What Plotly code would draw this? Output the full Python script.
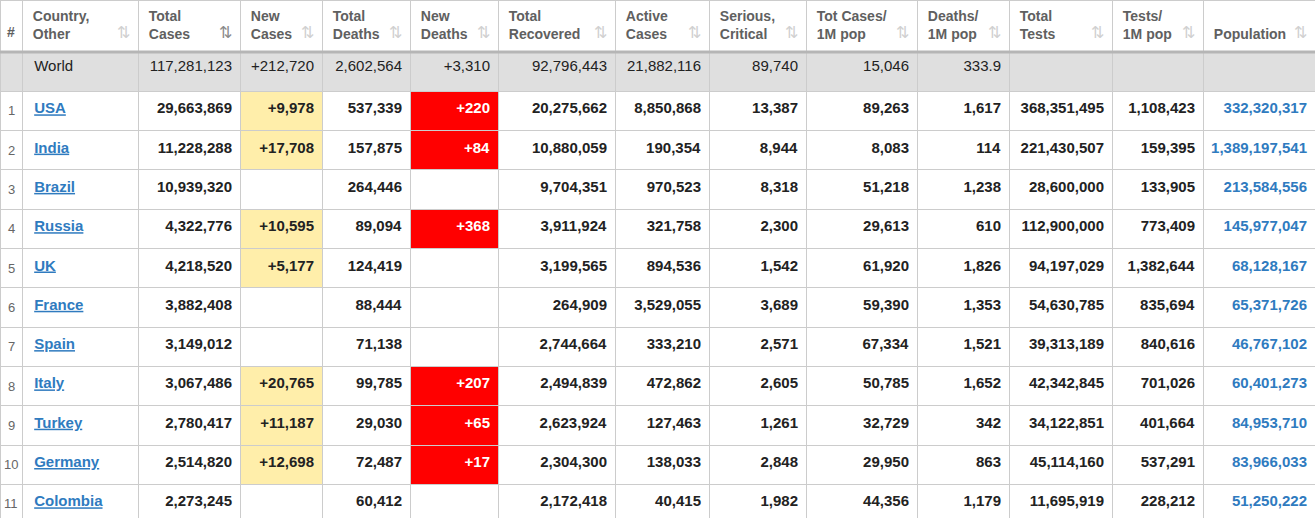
import plotly.graph_objects as go

# Column headers and table data (World row first, then countries)
headers = ["", "Country,<br>Other", "Total<br>Cases", "New<br>Cases", "Total<br>Deaths",
           "New<br>Deaths", "Total<br>Recovered", "Active<br>Cases", "Serious,<br>Critical",
           "Tot Cases/<br>1M pop", "Deaths/<br>1M pop", "Total<br>Tests", "Tests/<br>1M pop",
           "\u00a0<br>Population"]

countries = ["USA", "India", "Brazil", "Russia", "UK", "France", "Spain", "Italy",
             "Turkey", "Germany", "Colombia"]
total_cases = [29663869, 11228288, 10939320, 4322776, 4218520, 3882408, 3149012,
               3067486, 2780417, 2514820, 2273245]
new_cases = [9978, 17708, None, 10595, 5177, None, None, 20765, 11187, 12698, None]
total_deaths = [537339, 157875, 264446, 89094, 124419, 88444, 71138, 99785, 29030,
                72487, 60412]
new_deaths = [220, 84, None, 368, None, None, None, 207, 65, 17, None]
total_recovered = [20275662, 10880059, 9704351, 3911924, 3199565, 264909, 2744664,
                   2494839, 2623924, 2304300, 2172418]
active_cases = [8850868, 190354, 970523, 321758, 894536, 3529055, 333210, 472862,
                127463, 138033, 40415]
serious = [13387, 8944, 8318, 2300, 1542, 3689, 2571, 2605, 1261, 2848, 1982]
cases_per_m = [89263, 8083, 51218, 29613, 61920, 59390, 67334, 50785, 32729, 29950, 44356]
deaths_per_m = [1617, 114, 1238, 610, 1826, 1353, 1521, 1652, 342, 863, 1179]
total_tests = [368351495, 221430507, 28600000, 112900000, 94197029, 54630785, 39313189,
               42342845, 34122851, 45114160, 11695919]
tests_per_m = [1108423, 159395, 133905, 773409, 1382644, 835694, 840616, 701026,
               401664, 537291, 228212]
population = [332320317, 1389197541, 213584556, 145977047, 68128167, 65371726, 46767102,
              60401273, 84953710, 83966033, 51250222]

world = ["", "World", 117281123, 212720, 2602564, 3310, 92796443, 21882116, 89740,
         15046, 333.9, None, None, None]


def fmt(v, plus=False):
    if v is None or v == "":
        return ""
    if isinstance(v, str):
        return v
    if isinstance(v, float) and not v.is_integer():
        s = str(v)
    else:
        s = f"{int(v):,}"
    return "+" + s if plus else s


blue = "#2f7bbf"
dark = "#222222"
n = len(countries)
data_cols = [total_cases, new_cases, total_deaths, new_deaths, total_recovered,
             active_cases, serious, cases_per_m, deaths_per_m, total_tests,
             tests_per_m, population]
plus_cols = {1, 3}

values, fills, colors = [], [], []

# rank column (numbers are placed as annotations below, the column is too narrow)
values.append([""] * (n + 1))
fills.append(["#dfdfdf"] + ["white"] * n)
colors.append(["#666666"] * (n + 1))

# country column
values.append(["\u00a0World"] + [f"\u00a0<b><u>{c}</u></b>" for c in countries])
fills.append(["#dfdfdf"] + ["white"] * n)
colors.append([dark] + [blue] * n)

for j, col in enumerate(data_cols):
    plus = j in plus_cols
    txt = [fmt(world[j + 2], plus)]
    fl = ["#dfdfdf"]
    cl = [dark]
    for v in col:
        s = fmt(v, plus)
        txt.append(f"<b>{s}</b>" if s else "")
        if j == 1 and s:
            fl.append("#ffeeaa")
        elif j == 3 and s:
            fl.append("#ff0000")
        else:
            fl.append("white")
        if j == 3:
            cl.append("white")
        elif j == 11:
            cl.append(blue)
        else:
            cl.append(dark)
    values.append(txt)
    fills.append(fl)
    colors.append(cl)

col_widths = [22, 116, 102, 82, 88, 88, 117, 94, 97, 111, 92, 103, 91, 112]
aligns = ["center", "left"] + ["right"] * len(data_cols)

W, H = 1315, 518
header_h = 52
row_h = 39.3


def hdr(h):
    # small indent for each header line
    return "<br>".join("\u2009" + part for part in h.split("<br>")) if h else ""


fig = go.Figure(go.Table(
    columnwidth=col_widths,
    domain=dict(x=[0, 1], y=[0, 1]),
    header=dict(
        values=[f"<b>{hdr(h)}</b>" for h in headers],
        align="left",
        height=header_h,
        fill_color="white",
        line=dict(color="#cccccc", width=1),
        font=dict(family="Liberation Sans", size=14, color="#606060"),
    ),
    cells=dict(
        values=values,
        align=aligns,
        height=row_h,
        fill_color=fills,
        line=dict(color="#cccccc", width=1),
        font=dict(family="Liberation Sans", size=15, color=colors),
    ),
))

total_w = sum(col_widths)
annotations = []

# "#" header and rank numbers, centred in the narrow first column
annotations.append(dict(
    x=col_widths[0] / 2 / total_w, y=1 - 32 / H, xref="paper", yref="paper",
    xanchor="center", yanchor="middle", showarrow=False, text="<b>#</b>",
    font=dict(family="Liberation Sans", size=14, color="#606060"),
))
for i in range(n):
    yc = header_h + row_h * (i + 1.5)
    annotations.append(dict(
        x=col_widths[0] / 2 / total_w, y=1 - yc / H, xref="paper", yref="paper",
        xanchor="center", yanchor="middle", showarrow=False, text=str(i + 1),
        font=dict(family="Liberation Sans", size=13, color="#666666"),
    ))

# sort icons in the header
edge = 0
for i, w in enumerate(col_widths):
    edge += w
    if i == 0:
        continue
    annotations.append(dict(
        x=(edge - 6) / total_w, y=1 - 32 / H, xref="paper", yref="paper",
        xanchor="right", yanchor="middle", showarrow=False,
        text="⇅", font=dict(size=16, color="#8a8a8a" if i == 2 else "#d0d0d0"),
    ))

fig.update_layout(
    width=W, height=H,
    margin=dict(l=0, r=0, t=0, b=0),
    paper_bgcolor="white",
    annotations=annotations,
    shapes=[dict(type="line", xref="paper", yref="paper", x0=0, x1=1,
                 y0=1 - header_h / H, y1=1 - header_h / H,
                 line=dict(color="#b5b5b5", width=3), layer="above")],
)

fig.write_html("out.html", config={"displayModeBar": False},
               post_script="document.body.style.margin='0';")
